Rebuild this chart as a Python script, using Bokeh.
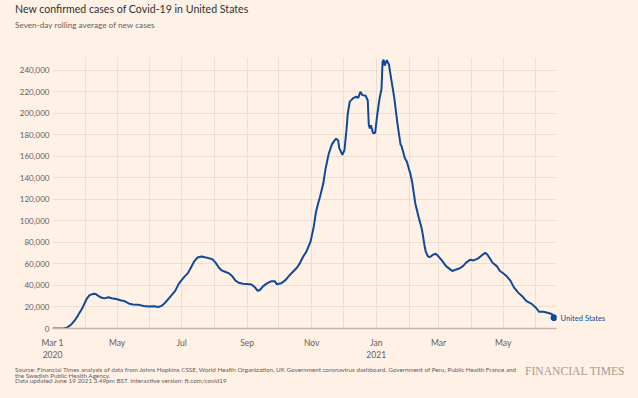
import pandas as pd
from bokeh.plotting import figure
from bokeh.layouts import column
from bokeh.models import (Range1d, FixedTicker, NumeralTickFormatter, ColumnDataSource,
                          LinearAxis, Div)
from bokeh.embed import file_html
from bokeh.resources import INLINE

# ---- data (7-day rolling average of new cases) ----
dates = [
    "2020-03-01", "2020-03-08", "2020-03-12", "2020-03-15", "2020-03-19", "2020-03-22",
    "2020-03-25", "2020-03-29", "2020-04-02", "2020-04-05", "2020-04-09", "2020-04-11",
    "2020-04-13", "2020-04-16", "2020-04-19", "2020-04-23", "2020-04-26", "2020-04-29",
    "2020-05-02", "2020-05-05", "2020-05-08", "2020-05-12", "2020-05-16", "2020-05-21",
    "2020-05-26", "2020-05-31", "2020-06-05", "2020-06-09", "2020-06-12", "2020-06-15",
    "2020-06-19", "2020-06-22", "2020-06-25", "2020-06-28", "2020-07-01", "2020-07-04",
    "2020-07-07", "2020-07-10", "2020-07-13", "2020-07-16", "2020-07-20", "2020-07-23",
    "2020-07-26", "2020-07-30", "2020-08-02", "2020-08-05", "2020-08-08", "2020-08-11",
    "2020-08-15", "2020-08-18", "2020-08-21", "2020-08-24", "2020-08-28", "2020-09-01",
    "2020-09-05", "2020-09-08", "2020-09-11", "2020-09-13", "2020-09-16", "2020-09-19",
    "2020-09-21", "2020-09-24", "2020-09-27", "2020-09-29", "2020-10-03", "2020-10-06",
    "2020-10-09", "2020-10-12", "2020-10-15", "2020-10-18", "2020-10-21", "2020-10-24",
    "2020-10-27", "2020-10-31", "2020-11-03", "2020-11-05", "2020-11-07", "2020-11-09",
    "2020-11-12", "2020-11-14", "2020-11-17", "2020-11-20", "2020-11-22", "2020-11-24",
    "2020-11-26", "2020-11-27", "2020-11-30", "2020-12-02", "2020-12-04", "2020-12-05",
    "2020-12-07", "2020-12-10", "2020-12-13", "2020-12-15", "2020-12-17", "2020-12-19",
    "2020-12-22", "2020-12-24", "2020-12-25", "2020-12-26", "2020-12-27", "2020-12-29",
    "2020-12-31", "2021-01-02", "2021-01-04", "2021-01-06", "2021-01-07", "2021-01-08",
    "2021-01-09", "2021-01-10", "2021-01-11", "2021-01-13", "2021-01-15", "2021-01-18",
    "2021-01-21", "2021-01-24", "2021-01-25", "2021-01-28", "2021-01-30", "2021-02-01",
    "2021-02-02", "2021-02-04", "2021-02-07", "2021-02-10", "2021-02-13", "2021-02-14",
    "2021-02-16", "2021-02-17", "2021-02-19", "2021-02-21", "2021-02-23", "2021-02-26",
    "2021-02-28", "2021-03-04", "2021-03-08", "2021-03-12", "2021-03-14", "2021-03-17",
    "2021-03-21", "2021-03-24", "2021-03-27", "2021-03-31", "2021-04-03", "2021-04-07",
    "2021-04-11", "2021-04-14", "2021-04-16", "2021-04-18", "2021-04-21", "2021-04-25",
    "2021-04-28", "2021-05-01", "2021-05-04", "2021-05-08", "2021-05-11", "2021-05-15",
    "2021-05-20", "2021-05-23", "2021-05-28", "2021-06-01", "2021-06-04", "2021-06-08",
    "2021-06-12", "2021-06-16", "2021-06-18",
]
cases = [
    0, 50, 300, 900, 4000, 7500,
    12000, 18500, 27000, 31000, 32300, 32000,
    30500, 28800, 28000, 29000, 28200, 27600,
    27000, 26000, 25500, 23300, 22300, 22200,
    21000, 20400, 20700, 20000, 21000, 23500,
    28000, 31500, 35000, 41000, 45000, 48500,
    51500, 57000, 62500, 66000, 67000, 66200,
    65500, 64500, 61500, 57000, 54000, 52800,
    51200, 48500, 44500, 42500, 41600, 41300,
    41000, 38600, 35000, 35800, 39200, 41500,
    42600, 44000, 44000, 41200, 42000, 44000,
    47000, 50500, 53500, 56500, 61000, 67000,
    71500, 81000, 95000, 108000, 116000, 123000,
    135000, 148000, 162000, 171000, 174000, 176500,
    175000, 168000, 161500, 166000, 186000, 199000,
    211000, 214000, 215500, 214500, 220000, 217000,
    216500, 212000, 189000, 186000, 189000, 181500,
    182000, 199000, 213000, 223000, 248000, 250000,
    244500, 247000, 249500, 245500, 233000, 215000,
    191000, 171000, 169500, 158500, 155000, 148000,
    145000, 136000, 116000, 104000, 93000, 87500,
    75000, 71000, 67000, 66400, 68200, 69500,
    68000, 63300, 58000, 55000, 53500, 54700,
    56000, 58000, 61200, 64000, 63300, 65000,
    68200, 70300, 68800, 65800, 61200, 58000,
    53500, 51400, 48900, 44300, 38500, 33600,
    29000, 25500, 22900, 19300, 15500, 15600,
    14700, 13500, 10000,
]
series_name = "United States"

x_tick_dates = ["2020-03-01", "2020-05-01", "2020-07-01", "2020-09-01",
                "2020-11-01", "2021-01-01", "2021-03-01", "2021-05-01"]
x_tick_labels = ["Mar 1\n2020", "May", "Jul", "Sep", "Nov", "Jan\n2021", "Mar", "May"]
month_grid_dates = [d.strftime("%Y-%m-%d") for d in pd.date_range("2020-03-01", "2021-06-01", freq="MS")]
y_ticks = [0, 20000, 40000, 60000, 80000, 100000, 120000,
           140000, 160000, 180000, 200000, 220000, 240000]

title_text = "New confirmed cases of Covid-19 in United States"
subtitle_text = "Seven-day rolling average of new cases"
source_lines = [
    "Source: Financial Times analysis of data from Johns Hopkins CSSE, World Health Organization, "
    "UK Government coronavirus dashboard, Government of Peru, Public Health France and",
    "the Swedish Public Health Agency.",
    "Data updated June 19 2021 3.49pm BST. Interactive version: ft.com/covid19",
]
brand = "FINANCIAL TIMES"


def ms(s):
    return int(pd.Timestamp(s).value // 10**6)


BG = "#fff1e5"
GRID = "#ebdfd4"
TXT = "#66605c"
BLUE = "#0d4a9a"
FONT = "Lato"
W = 638

xs = [ms(d) for d in dates]
src = ColumnDataSource(dict(x=xs, y=cases))

p = figure(width=W, height=322, x_axis_type="datetime",
           output_backend="svg", toolbar_location=None,
           x_range=Range1d(ms("2020-03-01"), ms("2021-06-20 10:00")),
           y_range=Range1d(0, 252000),
           min_border_left=52, min_border_right=82,
           min_border_top=17, min_border_bottom=31)
p.background_fill_color = BG
p.border_fill_color = BG
p.outline_line_color = None

# grids
p.xgrid.ticker = FixedTicker(ticks=[ms(d) for d in month_grid_dates])
p.xgrid.grid_line_color = GRID
p.ygrid.ticker = FixedTicker(ticks=y_ticks)
p.ygrid.grid_line_color = GRID

# x axis
p.xaxis.ticker = FixedTicker(ticks=[ms(d) for d in x_tick_dates])
p.xaxis.major_label_overrides = {ms(d): lab for d, lab in zip(x_tick_dates, x_tick_labels)}
p.xaxis.axis_line_color = "#c2b6ab"
p.xaxis.axis_line_width = 1.3
p.xaxis.major_tick_line_color = None
p.xaxis.minor_tick_line_color = None
p.xaxis.major_tick_out = 0
p.xaxis.major_label_text_font = FONT
p.xaxis.major_label_text_font_size = "8.5px"
p.xaxis.major_label_text_color = TXT
p.xaxis.major_label_standoff = 9

# y axis
p.yaxis.ticker = FixedTicker(ticks=y_ticks)
p.yaxis.formatter = NumeralTickFormatter(format="0,0")
p.yaxis.axis_line_color = None
p.yaxis.major_tick_line_color = None
p.yaxis.minor_tick_line_color = None
p.yaxis.major_tick_out = 0
p.yaxis.major_label_text_font = FONT
p.yaxis.major_label_text_font_size = "8px"
p.yaxis.major_label_text_color = TXT
p.yaxis.major_label_standoff = 3

# series
p.line("x", "y", source=src, line_color=BLUE, line_width=2)
p.scatter(x=[xs[-1]], y=[cases[-1]], size=6, color=BLUE)

# end-of-line series label, as a right-hand axis with one tick at the last value
lab_axis = LinearAxis(ticker=FixedTicker(ticks=[cases[-1]]),
                      major_label_overrides={cases[-1]: series_name},
                      axis_line_color=None, major_tick_line_color=None,
                      minor_tick_line_color=None, major_tick_out=0,
                      major_label_standoff=4,
                      major_label_text_color=BLUE, major_label_text_font=FONT,
                      major_label_text_font_size="7.6px")
p.add_layout(lab_axis, "right")

# header and footer
header_html = (
    f'<div style="position:relative;width:{W}px;height:40px;font-family:Lato;">'
    f'<div style="position:absolute;left:15px;top:2px;font-size:10.6px;line-height:14px;'
    f'color:#33302e;white-space:nowrap;">{title_text}</div>'
    f'<div style="position:absolute;left:15px;top:20px;font-size:8.2px;line-height:10px;'
    f'color:{TXT};white-space:nowrap;">{subtitle_text}</div></div>'
)
footer_html = (
    f'<div style="position:relative;width:{W}px;height:36px;font-family:Lato;">'
    f'<div style="position:absolute;left:15px;top:5px;font-size:6.3px;line-height:5.6px;'
    f'color:{TXT};white-space:nowrap;">' + "<br>".join(source_lines) + '</div>'
    f'<div style="position:absolute;left:525px;top:2px;font-family:\'Liberation Serif\';'
    f'font-size:11.6px;line-height:15px;color:#a39a93;white-space:nowrap;">{brand}</div></div>'
)
header = Div(text=header_html, width=W, height=40, margin=0)
footer = Div(text=footer_html, width=W, height=36, margin=0)

layout = column(header, p, footer, spacing=0)
layout.styles = {"background-color": BG}

html = file_html(layout, INLINE, title=title_text)
html = html.replace("<head>", "<head><style>html,body{background:#fff1e5;}</style>", 1)
open("out.html", "w").write(html)
